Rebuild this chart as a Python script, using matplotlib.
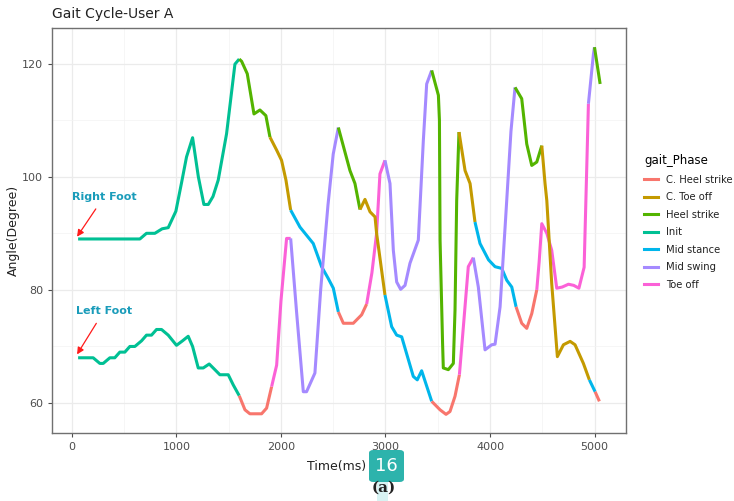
import matplotlib.pyplot as plt
import matplotlib.patches as patches
from matplotlib.lines import Line2D

# 步态阶段及对应颜色 (ggplot 默认色)
phase_names = ['C. Heel strike', 'C. Toe off', 'Heel strike', 'Init',
               'Mid stance', 'Mid swing', 'Toe off']
phase_colors = ['#F8766D', '#C49A00', '#53B400', '#00C094',
                '#00B6EB', '#A58AFF', '#FB61D7']

# 右脚数据 (时间 ms, 角度, 阶段编号)
right_t = [60, 200, 400, 600, 651, 714, 794, 864, 922, 995, 1050, 1097, 1155, 1210, 1263,
           1305, 1350, 1400, 1480, 1560, 1601, 1624, 1678, 1742, 1799, 1856, 1895,
           1959, 2006, 2048, 2093, 2182, 2309, 2389, 2453, 2501, 2549,
           2597, 2692, 2772, 2820, 2870, 2915, 2947, 2995, 3043, 3075, 3107, 3145,
           3187, 3234, 3314, 3362, 3394, 3442, 3506, 3516, 3522, 3546, 3553, 3601,
           3649, 3665, 3681, 3697, 3703, 3761, 3809, 3856, 3904, 3986, 4048, 4112,
           4160, 4208, 4249, 4303, 4351, 4399, 4447, 4470, 4495, 4543, 4590, 4638,
           4690, 4750, 4800, 4850, 4900, 4941, 4989, 4999, 5053]
right_angle = [89, 89, 89, 89, 89, 90, 90, 90.8, 91, 93.9, 99, 103.5, 106.9, 100, 95.1,
               95.1, 96.5, 99.4, 107.6, 119.9, 120.8, 120.4, 118.2, 111.1, 111.8, 110.8, 107.0,
               104.7, 102.9, 99.4, 94.1, 91.1, 88.2, 84.1, 82.0, 80.3, 76.1,
               74.1, 74.1, 75.6, 77.5, 83, 90, 100.5, 102.9, 98.8, 87, 81.4, 80.1,
               80.8, 84.7, 88.8, 106.4, 116.4, 118.8, 114.4, 110, 88.8, 70.6, 66.2, 65.9,
               67, 76.4, 95.8, 104.7, 107.9, 101.1, 98.8, 92.0, 88.2, 85.3, 84.1, 83.8,
               81.7, 80.5, 77.0, 74.1, 73.2, 75.8, 80, 85, 91.7, 90, 87.0, 80.3,
               80.5, 81, 80.8, 80.3, 84, 112.9, 121.7, 122.9, 116.4]
right_phase = [3] * 20 + [2] * 6 + [1] * 4 + [4] * 6 + [0] * 4 + [6] * 4 + [5] * 10 \
              + [2] * 11 + [1] * 3 + [4] * 7 + [0] * 4 + [6] * 11 + [5] * 2 + [2] * 2

# 左脚数据
left_t = [60, 204, 268, 300, 364, 411, 459, 507, 555, 603, 667, 714, 762, 810, 858,
          922, 1001, 1059, 1113, 1155, 1209, 1257, 1314, 1368, 1416, 1496, 1544, 1601,
          1656, 1703, 1815, 1863, 1911, 1959, 2000, 2054, 2093, 2150, 2214, 2245, 2325,
          2380, 2450, 2500, 2549, 2660, 2708, 2756, 2804, 2852, 2900, 2915, 2995,
          3059, 3107, 3155, 3266, 3304, 3346, 3442, 3522, 3579, 3617, 3665, 3707,
          3745, 3792, 3840, 3888, 3952, 4016, 4048, 4096, 4144, 4200, 4239, 4303,
          4351, 4399, 4447, 4495, 4526, 4543, 4590, 4644, 4702, 4766, 4813, 4893,
          4950, 5005, 5046]
left_angle = [68, 68, 67, 67, 68, 68, 69, 69, 70, 70, 71, 72, 72, 73, 73,
              72, 70.2, 71, 71.8, 70, 66.2, 66.2, 66.9, 65.9, 65, 65, 63.2, 61.3,
              58.8, 58.1, 58.1, 59.1, 62.9, 66.7, 78, 89.1, 89.1, 76, 62, 62, 65.3,
              80, 95, 104, 108.7, 101.1, 98.8, 94.2, 96, 93.8, 92.9, 90, 79.1,
              73.5, 72, 71.7, 64.7, 64.1, 65.7, 60.3, 58.8, 58.0, 58.5, 61.2, 65,
              73.5, 84.1, 85.7, 80.5, 69.4, 70.3, 70.4, 77, 91.1, 108, 115.8, 113.8,
              105.8, 102, 102.6, 105.5, 98.8, 95.8, 81.1, 68.2, 70.3, 70.9, 70.3, 67.0,
              64.1, 62, 60.3]
left_phase = [3] * 27 + [0] * 5 + [6] * 4 + [5] * 8 + [2] * 3 + [1] * 5 \
             + [4] * 7 + [0] * 5 + [6] * 3 + [5] * 8 + [2] * 5 + [1] * 9 + [4] * 1 + [0] * 2

# x / y 坐标刻度
x_ticks = [0, 1000, 2000, 3000, 4000, 5000]
y_ticks = [60, 80, 100, 120]


def draw_series(ax, t, angle, phase):
    # 按阶段分段绘制, 每段延伸到下一个点, 保证曲线连续
    n = min(len(t), len(angle), len(phase))
    start = 0
    for i in range(1, n + 1):
        if i == n or phase[i] != phase[start]:
            end = min(i + 1, n)
            ax.plot(t[start:end], angle[start:end], color=phase_colors[phase[start]],
                    linewidth=2.2, solid_capstyle='butt', solid_joinstyle='round', zorder=3)
            start = i


fig = plt.figure(figsize=(7.34, 5.01), dpi=100)
ax = fig.add_axes([0.0708, 0.1357, 0.782, 0.8085])

draw_series(ax, right_t, right_angle, right_phase)
draw_series(ax, left_t, left_angle, left_phase)

ax.set_xlim(-190, 5300)
ax.set_ylim(54.7, 126.3)
ax.set_xticks(x_ticks)
ax.set_yticks(y_ticks)
ax.set_xticks([500, 1500, 2500, 3500, 4500], minor=True)
ax.set_yticks([70, 90, 110], minor=True)
ax.grid(True, which='major', color='#ebebeb', linewidth=0.9, zorder=0)
ax.grid(True, which='minor', color='#f3f3f3', linewidth=0.5, zorder=0)
ax.set_axisbelow(True)
ax.tick_params(which='major', colors='#4d4d4d', labelsize=8, length=3, width=0.8)
ax.tick_params(which='minor', length=0)
for s in ax.spines.values():
    s.set_color('#707070')
    s.set_linewidth(1.0)

ax.set_xlabel('Time(ms)', fontsize=9, color='#222222')
ax.set_ylabel('Angle(Degree)', fontsize=9, color='#222222')
ax.xaxis.set_label_coords(0.4965, -0.067)
ax.yaxis.set_label_coords(-0.056, 0.5)
fig.text(0.0708, 0.972, 'Gait Cycle-User A', fontsize=10, color='#222222', ha='left', va='center')

# 注释: 左右脚
ax.annotate('Right Foot', xy=(50, 89.4), xytext=(0, 96.5), fontsize=8, fontweight='bold',
            color='#1A9CBA', ha='left', va='center',
            arrowprops=dict(arrowstyle='-|>', color='#FF1A1A', lw=0.9, mutation_scale=10,
                            shrinkA=4, shrinkB=0))
ax.annotate('Left Foot', xy=(50, 68.6), xytext=(40, 76.3), fontsize=8, fontweight='bold',
            color='#1A9CBA', ha='left', va='center',
            arrowprops=dict(arrowstyle='-|>', color='#FF1A1A', lw=0.9, mutation_scale=10,
                            shrinkA=4, shrinkB=0))

# 图例
handles = [Line2D([0], [0], color=c, lw=2.2) for c in phase_colors]
leg = fig.legend(handles, phase_names, title='gait_Phase', loc='upper left',
                 bbox_to_anchor=(0.872, 0.70), frameon=False, fontsize=7.2,
                 title_fontsize=8.5, handlelength=1.4, handletextpad=0.8,
                 labelspacing=0.75, borderaxespad=0)
leg._legend_box.align = 'left'
for txt in leg.get_texts():
    txt.set_color('#222222')

# 页码徽章和子图标签
badge = patches.FancyBboxPatch((369 / 734, 1 - 482 / 501), 35 / 734, 32 / 501,
                               boxstyle='round,pad=0,rounding_size=0.006',
                               transform=fig.transFigure, facecolor='#2DB3AC',
                               edgecolor='none', zorder=5)
fig.patches.append(badge)
fig.text(386.5 / 734, 1 - 466 / 501, '16', fontsize=13, color='white', ha='center',
         va='center', zorder=6)
hl = patches.Rectangle((377 / 734, 0.0), 11 / 734, 21 / 501, transform=fig.transFigure,
                       facecolor='#d8f3f3', edgecolor='none', zorder=4)
fig.patches.append(hl)
fig.text(384 / 734, 1 - 488 / 501, '(a)', fontsize=11, fontweight='bold', family='DejaVu Serif',
         color='#222222', ha='center', va='center', zorder=6)

fig.savefig('out.png', dpi=100)
